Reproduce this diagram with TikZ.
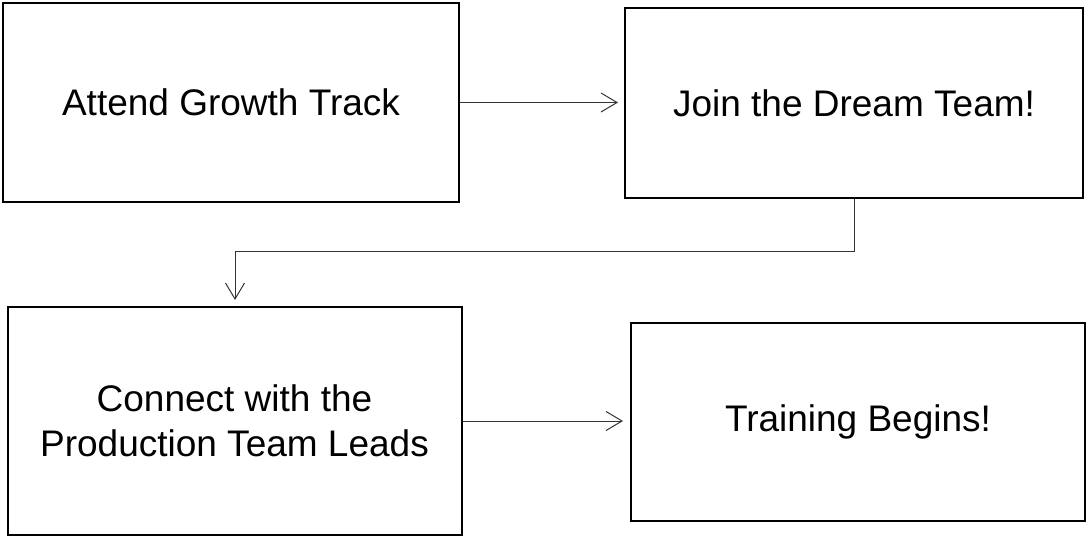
\documentclass[tikz,border=0pt]{standalone}
\usepackage{fontspec}
\setmainfont{Liberation Sans}
\usetikzlibrary{arrows.meta}
\begin{document}
\begin{tikzpicture}[x=1pt,y=-1pt,
  box/.style={draw=black, line width=2pt, fill=white, inner sep=0pt, align=center,
    font=\fontsize{37}{44.5}\selectfont},
  conn/.style={draw=black!80, line width=1pt, -{Straight Barb[length=16pt,width=19pt,line width=1pt]}}]
\useasboundingbox (0,0) rectangle (1086,537);
\node[box, minimum width=456pt, minimum height=199pt] (agt) at (231,102.5) {Attend Growth Track};
\node[box, minimum width=458pt, minimum height=190pt] (jdt) at (854,103) {Join the Dream Team!};
\node[box, minimum width=454pt, minimum height=228pt] (cpt) at (234.5,421) {Connect with the\\Production Team Leads};
\node[box, minimum width=454pt, minimum height=198pt] (trb) at (858,422) {Training Begins!};
\coordinate (bend) at (235,252);
\draw[conn, shorten >=6pt] (agt.east) -- (agt.east -| jdt.west);
\draw[conn, shorten >=6pt] (jdt.south) |- (bend) -- (cpt.north -| bend);
\draw[conn, shorten >=7pt] (cpt.east) -- (cpt.east -| trb.west);
\end{tikzpicture}
\end{document}
